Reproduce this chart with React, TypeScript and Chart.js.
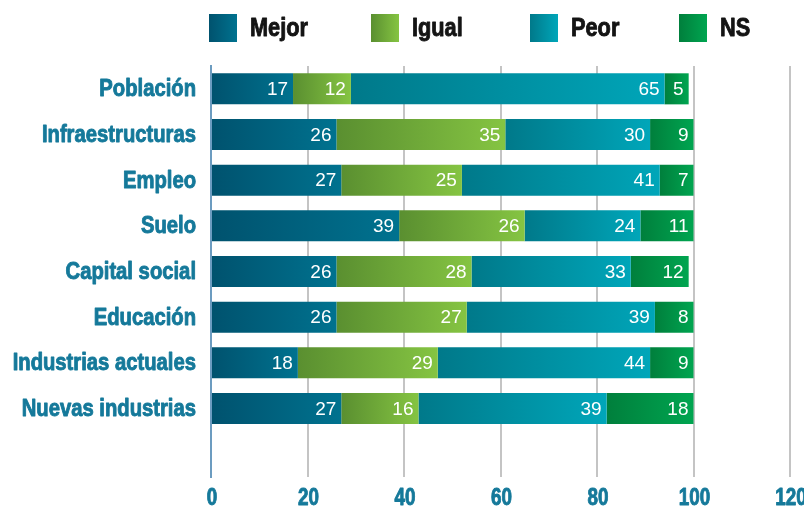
import React, { useEffect, useRef } from "react";
import { Chart, registerables } from "chart.js";

Chart.register(...registerables);

const categories = [
  "Población",
  "Infraestructuras",
  "Empleo",
  "Suelo",
  "Capital social",
  "Educación",
  "Industrias actuales",
  "Nuevas industrias",
  "",
];
const seriesNames = ["Mejor", "Igual", "Peor", "NS"];
const mejor = [17, 26, 27, 39, 26, 26, 18, 27, null];
const igual = [12, 35, 25, 26, 28, 27, 29, 16, null];
const peor = [65, 30, 41, 24, 33, 39, 44, 39, null];
const ns = [5, 9, 7, 11, 12, 8, 9, 18, null];
const xTicks = [0, 20, 40, 60, 80, 100, 120];

const allSeries = [mejor, igual, peor, ns];
const gradStops: [string, string][] = [
  ["#00526e", "#00728f"],
  ["#5a8f30", "#85c442"],
  ["#00798a", "#00a6b9"],
  ["#007f3c", "#00a550"],
];

const LABEL_FONT = "'Liberation Sans', Arial, sans-serif";
const VALUE_FONT = "'Liberation Sans', Arial, sans-serif";
const TEAL = "#15799a";

function condensedText(
  c: CanvasRenderingContext2D,
  text: string,
  x: number,
  y: number,
  sx: number,
  align: CanvasTextAlign,
  color: string
) {
  c.save();
  c.translate(x, y);
  c.scale(sx, 1);
  c.textAlign = align;
  c.textBaseline = "middle";
  c.fillStyle = color;
  c.strokeStyle = color;
  c.lineWidth = 0.9;
  c.lineJoin = "round";
  c.fillText(text, 0, 0);
  c.strokeText(text, 0, 0);
  c.restore();
}

export default function App() {
  const ref = useRef<HTMLCanvasElement | null>(null);

  useEffect(() => {
    const canvas = ref.current;
    if (!canvas) return;

    const makeBg = (di: number) => (ctx: any) => {
      const chart = ctx.chart;
      if (!chart.chartArea || ctx.type !== "data" || !chart.scales.x) return gradStops[di][1];
      const i = ctx.dataIndex;
      let start = 0;
      for (let k = 0; k < di; k++) start += allSeries[k][i] || 0;
      const end = start + (allSeries[di][i] || 0);
      const x0 = chart.scales.x.getPixelForValue(start);
      const x1 = chart.scales.x.getPixelForValue(end);
      if (!isFinite(x0) || !isFinite(x1) || x1 <= x0) return gradStops[di][1];
      const g = chart.ctx.createLinearGradient(x0, 0, x1, 0);
      g.addColorStop(0, gradStops[di][0]);
      g.addColorStop(1, gradStops[di][1]);
      return g;
    };

    const valueLabels = {
      id: "valueLabels",
      afterDatasetsDraw(chart: any) {
        const c = chart.ctx;
        c.save();
        c.font = `19px ${VALUE_FONT}`;
        c.fillStyle = "#ffffff";
        c.textAlign = "right";
        c.textBaseline = "middle";
        chart.data.datasets.forEach((ds: any, di: number) => {
          const meta = chart.getDatasetMeta(di);
          meta.data.forEach((el: any, i: number) => {
            const v = ds.data[i];
            if (v == null) return;
            c.fillText(String(v), el.x - 5, el.y + 1);
          });
        });
        c.restore();
      },
    };

    const axisLabels = {
      id: "axisLabels",
      afterDraw(chart: any) {
        const c = chart.ctx;
        const ys = chart.scales.y;
        const xs = chart.scales.x;
        c.save();
        c.font = `bold 23px ${LABEL_FONT}`;
        categories.forEach((lab, i) => {
          if (!lab) return;
          condensedText(c, lab, chart.chartArea.left - 15, ys.getPixelForTick(i) + 1, 0.88, "right", TEAL);
        });
        xTicks.forEach((v) => {
          condensedText(c, String(v), xs.getPixelForValue(v) + 1, chart.chartArea.bottom + 22, 0.82, "center", TEAL);
        });
        c.restore();
      },
    };

    const legendPlugin = {
      id: "customLegend",
      afterDraw(chart: any) {
        const c = chart.ctx;
        const xs = [209, 371, 530, 679];
        c.save();
        seriesNames.forEach((name, i) => {
          const x = xs[i];
          const g = c.createLinearGradient(x, 0, x + 28, 0);
          g.addColorStop(0, gradStops[i][0]);
          g.addColorStop(1, gradStops[i][1]);
          c.fillStyle = g;
          c.fillRect(x, 14, 28, 28);
          c.font = `bold 25px ${LABEL_FONT}`;
          condensedText(c, name, x + 41, 29, 0.87, "left", "#141414");
        });
        c.restore();
      },
    };

    const chart = new Chart(canvas, {
      type: "bar",
      data: {
        labels: categories,
        datasets: allSeries.map((d, di) => ({
          label: seriesNames[di],
          data: d,
          backgroundColor: makeBg(di),
          borderWidth: 0,
          categoryPercentage: 1,
          barPercentage: 0.68,
        })),
      },
      options: {
        indexAxis: "y",
        responsive: false,
        animation: false,
        layout: { padding: { top: 66, right: 14, bottom: 0, left: 0 } },
        plugins: {
          legend: { display: false },
          tooltip: { enabled: false },
        },
        scales: {
          x: {
            stacked: true,
            min: 0,
            max: 120,
            afterBuildTicks: (s: any) => {
              s.ticks = xTicks.map((v) => ({ value: v }));
            },
            afterFit: (s: any) => {
              s.height = 32;
              s.paddingLeft = 0;
              s.paddingRight = 0;
            },
            grid: {
              color: (ctx: any) => (ctx.tick && ctx.tick.value === 0 ? "rgba(0,0,0,0)" : "#c4c4c4"),
              lineWidth: 2,
              drawTicks: false,
            },
            border: { display: false },
            ticks: { display: false },
          },
          y: {
            stacked: true,
            afterFit: (s: any) => {
              s.width = 211;
            },
            grid: { display: false, drawTicks: false },
            border: { display: true, color: "#6c9cc0", width: 2, dash: [2, 2] },
            ticks: { display: false },
          },
        },
      },
      plugins: [valueLabels, axisLabels, legendPlugin],
    } as any);

    return () => chart.destroy();
  }, []);

  return (
    <div style={{ position: "fixed", left: 0, top: 0, width: 804, height: 509, background: "#ffffff" }}>
      <canvas ref={ref} width={804} height={509} />
    </div>
  );
}
